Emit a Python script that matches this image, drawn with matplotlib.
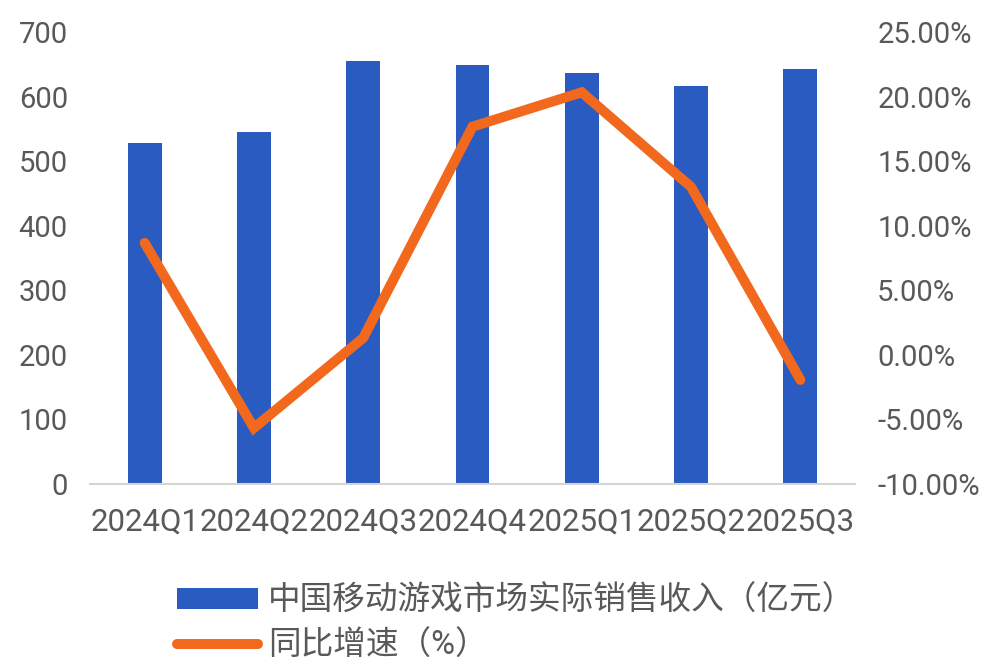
import matplotlib
matplotlib.use("Agg")
import matplotlib.pyplot as plt
from matplotlib.ticker import FuncFormatter, FixedLocator

plt.rcParams['font.family'] = ['Roboto', 'Noto Sans CJK SC', 'DejaVu Sans']

# Data
quarters = ["2024Q1", "2024Q2", "2024Q3", "2024Q4", "2025Q1", "2025Q2", "2025Q3"]
revenue = [528.6, 544.7, 654.8, 649.0, 636.2, 616.5, 642.8]      # 亿元
growth = [8.67, -5.66, 1.31, 17.67, 20.33, 13.0, -1.94]           # %
left_ticks = [0, 100, 200, 300, 400, 500, 600, 700]
right_ticks = [-10, -5, 0, 5, 10, 15, 20, 25]

bar_label = "中国移动游戏市场实际销售收入（亿元）"
line_label = "同比增速（%）"

BLUE = "#2A5BC0"
ORANGE = "#F2691D"
TEXT = "#595959"
AXIS = "#D4D4D4"
FS = 21

fig = plt.figure(figsize=(9.86, 6.64), dpi=100)
ax = fig.add_axes([90 / 986, 1 - 484 / 664, (855 - 90) / 986, (484 - 32) / 664])
ax2 = ax.twinx()

x = list(range(len(quarters)))
bars = ax.bar(x, revenue, width=0.31, color=BLUE, zorder=2, label=bar_label)
line, = ax2.plot(x, growth, color=ORANGE, lw=7.2, solid_capstyle="round",
                 solid_joinstyle="miter", zorder=3, label=line_label)

ax.set_xlim(-0.5, len(quarters) - 0.5)
ax.set_ylim(0, 700)
ax2.set_ylim(-10, 25)
ax.yaxis.set_major_locator(FixedLocator(left_ticks))
ax2.yaxis.set_major_locator(FixedLocator(right_ticks))
ax2.yaxis.set_major_formatter(FuncFormatter(lambda v, p: f"{v:.2f}%"))

ax.set_xticks(x)
ax.set_xticklabels(quarters)

for a in (ax, ax2):
    for s in a.spines.values():
        s.set_visible(False)
ax.spines["bottom"].set_visible(True)
ax.spines["bottom"].set_color(AXIS)
ax.spines["bottom"].set_linewidth(1.5)

ax.tick_params(axis="x", length=0, pad=17, labelsize=22.5, labelcolor=TEXT)
ax.tick_params(axis="y", length=0, pad=16, labelsize=FS, labelcolor=TEXT)
ax2.tick_params(axis="y", length=0, pad=16, labelsize=FS, labelcolor=TEXT)

ax.set_zorder(1)
ax2.set_zorder(2)
ax.patch.set_visible(False)

leg = fig.legend(handles=[bars, line], labels=[bar_label, line_label],
                 loc="upper left", bbox_to_anchor=(177 / 986, 1 - 585 / 664),
                 frameon=False, fontsize=23.5, labelcolor=TEXT,
                 handlelength=2.48, handleheight=0.6, handletextpad=0.3,
                 labelspacing=0.4, borderpad=0, borderaxespad=0)

fig.savefig("out.png", dpi=100, facecolor="white")
